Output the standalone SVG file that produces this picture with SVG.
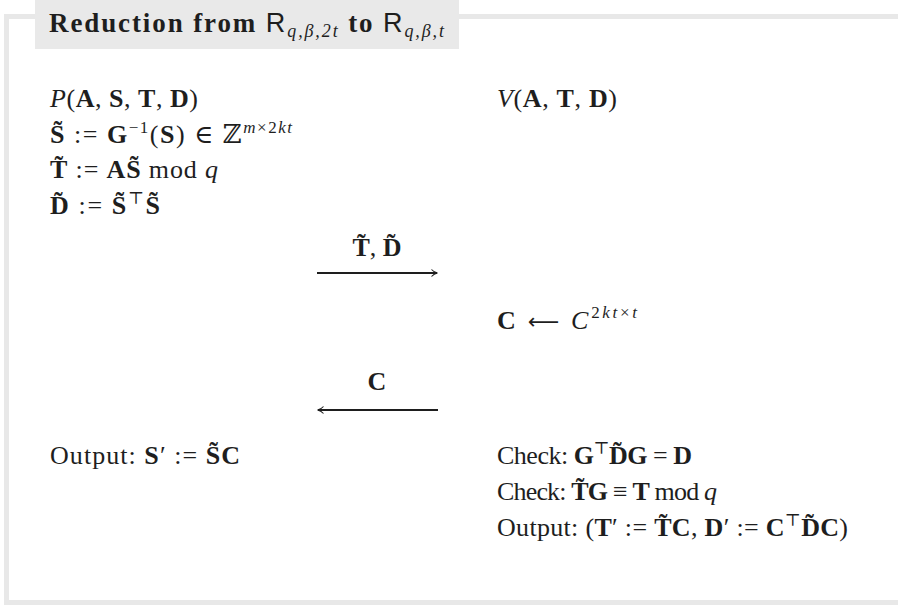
<svg xmlns="http://www.w3.org/2000/svg" width="898" height="606" viewBox="0 0 898 606">
<style>
  text { font-family: "Liberation Serif", "DejaVu Serif", serif; font-size: 26px; fill: #1e1e1e; }
  .b { font-weight: bold; }
  .i { font-style: italic; }
  .n { font-weight: normal; }
  .sup { font-size: 17px; }
  .sub { font-size: 18px; font-style: italic; font-weight: normal; }
  .sf { font-family: "Liberation Sans", "DejaVu Sans", sans-serif; font-weight: normal; }
  .arr { font-family: "DejaVu Sans", sans-serif; font-size: 22px; }
  .ttl { font-weight: bold; font-size: 27px; }
  .conn { stroke: #1e1e1e; stroke-width: 2; fill: none; }
</style>
<defs>
  <marker id="head" viewBox="0 0 10 10" refX="9" refY="5" markerWidth="10" markerHeight="10" markerUnits="userSpaceOnUse" orient="auto-start-reverse">
    <path d="M3.5,1.5 Q6,4.3 9.5,5 Q6,5.7 3.5,8.5" fill="none" stroke="#1e1e1e" stroke-width="1.1"/>
  </marker>
</defs>
<rect x="6.5" y="16.5" width="895" height="586" fill="none" stroke="#e8e8e8" stroke-width="5"/>
<g id="title">
  <rect x="35" y="0" width="424" height="49" fill="#e9e9e9"/>
  <text class="ttl" x="49" y="32" textLength="395" lengthAdjust="spacing">Reduction from <tspan class="sf">R</tspan><tspan class="sub" dy="5">q,β,2t</tspan><tspan dy="-5"> to </tspan><tspan class="sf">R</tspan><tspan class="sub" dy="5">q,β,t</tspan></text>
</g>
<g id="prover">
  <text x="50" y="107" textLength="148" lengthAdjust="spacing"><tspan class="i">P</tspan>(<tspan class="b">A</tspan>, <tspan class="b">S</tspan>, <tspan class="b">T</tspan>, <tspan class="b">D</tspan>)</text>
  <text x="50" y="143" textLength="242" lengthAdjust="spacing"><tspan class="b">S&#x303;</tspan> := <tspan class="b">G</tspan><tspan class="sup" dy="-10">−1</tspan><tspan dy="10">(</tspan><tspan class="b">S</tspan>) ∈ ℤ<tspan class="sup i" dy="-10">m</tspan><tspan class="sup">×2</tspan><tspan class="sup i">kt</tspan></text>
  <text x="50" y="178" textLength="168" lengthAdjust="spacing"><tspan class="b">T&#x303;</tspan> := <tspan class="b">AS&#x303;</tspan> mod <tspan class="i">q</tspan></text>
  <text x="50" y="214" textLength="110" lengthAdjust="spacing"><tspan class="b">D&#x303;</tspan> := <tspan class="b">S&#x303;</tspan><tspan class="sup" dy="-10">⊤</tspan><tspan class="b" dy="10">S&#x303;</tspan></text>
  <text x="50" y="464" textLength="190" lengthAdjust="spacing">Output: <tspan class="b">S</tspan>′ := <tspan class="b">S&#x303;C</tspan></text>
</g>
<g id="verifier">
  <text x="497" y="107" textLength="120" lengthAdjust="spacing"><tspan class="i">V</tspan>(<tspan class="b">A</tspan>, <tspan class="b">T</tspan>, <tspan class="b">D</tspan>)</text>
  <text x="497" y="329" textLength="140" lengthAdjust="spacing"><tspan class="b">C</tspan> <tspan class="arr">⟵</tspan> <tspan class="i">C</tspan><tspan class="sup" dy="-11">2</tspan><tspan class="sup i">kt</tspan><tspan class="sup">×</tspan><tspan class="sup i">t</tspan></text>
  <text x="497" y="464" textLength="195" lengthAdjust="spacing">Check: <tspan class="b">G</tspan><tspan class="sup" dy="-10">⊤</tspan><tspan class="b" dy="10">D&#x303;G</tspan> = <tspan class="b">D</tspan></text>
  <text x="497" y="500" textLength="220" lengthAdjust="spacing">Check: <tspan class="b">T&#x303;G</tspan> ≡ <tspan class="b">T</tspan> mod <tspan class="i">q</tspan></text>
  <text x="497" y="536" textLength="351" lengthAdjust="spacing">Output: (<tspan class="b">T</tspan>′ := <tspan class="b">T&#x303;C</tspan>, <tspan class="b">D</tspan>′ := <tspan class="b">C</tspan><tspan class="sup" dy="-10">⊤</tspan><tspan class="b" dy="10">D&#x303;C</tspan>)</text>
</g>
<g id="connectors">
  <line class="conn" x1="317" y1="273" x2="437" y2="273" marker-end="url(#head)"/>
  <text class="b" x="377" y="256" text-anchor="middle"><tspan>T&#x303;</tspan><tspan class="n">, </tspan><tspan>D&#x303;</tspan></text>
  <line class="conn" x1="438" y1="410" x2="318" y2="410" marker-end="url(#head)"/>
  <text class="b" x="377" y="390" text-anchor="middle">C</text>
</g>
</svg>
